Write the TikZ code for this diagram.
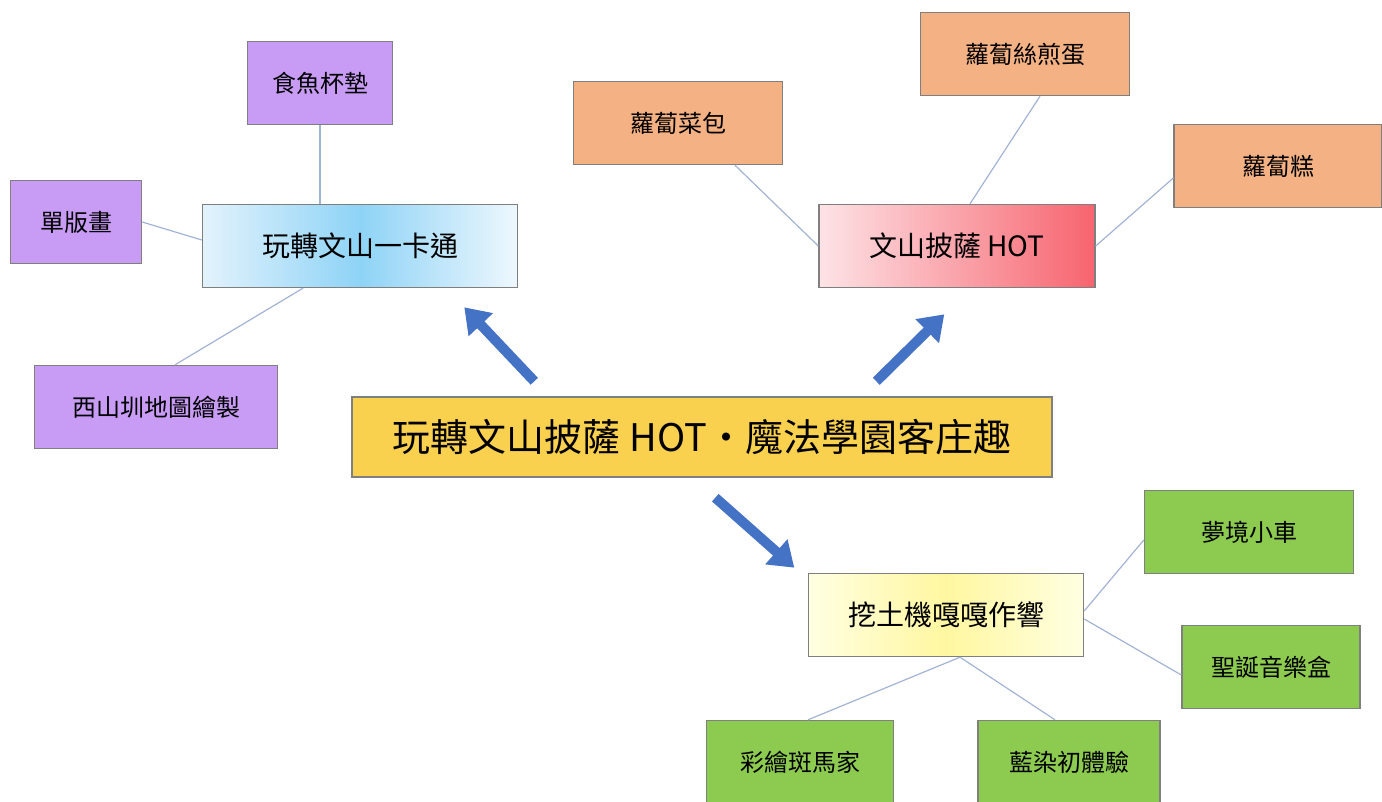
\documentclass[tikz,border=0pt]{standalone}
\usepackage{fontspec}
\newfontfamily\cjk{Noto Sans CJK TC}
\usepackage{tikz}
\usetikzlibrary{arrows.meta,calc}

\definecolor{boxline}{HTML}{7F7F7F}
\definecolor{linkblue}{HTML}{A3B3D6}
\definecolor{arrowblue}{HTML}{4472C4}
\definecolor{purplebox}{HTML}{C89BF5}
\definecolor{orangebox}{HTML}{F4B183}
\definecolor{greenbox}{HTML}{8CCB50}
\definecolor{goldbox}{HTML}{FAD04F}
\definecolor{skymid}{HTML}{8ED3F6}
\definecolor{skyedge}{HTML}{E3F3FC}
\definecolor{pinkedge}{HTML}{FDE3E6}
\definecolor{redmid}{HTML}{F7646F}
\definecolor{lemonmid}{HTML}{FFF7A0}
\definecolor{lemonedge}{HTML}{FFFFE2}

\begin{document}
\begin{tikzpicture}[
    x=0.5pt,y=-0.5pt,
    every node/.style={font=\cjk\fontsize{12pt}{14pt}\selectfont},
    box/.style={
        draw=boxline,line width=0.7pt,
        minimum height=41.5pt,inner sep=0pt,align=center
    },
    leafpurple/.style={box,fill=purplebox},
    leaforange/.style={box,fill=orangebox},
    leafgreen/.style={box,fill=greenbox},
    link/.style={draw=linkblue,line width=0.6pt},
    bigarrow/.style={
        draw=arrowblue,line width=5pt,
        -{Triangle[length=12pt,width=16pt]}
    }
]
\useasboundingbox (0,0) rectangle (1382,802);

% centre
\node[box,fill=goldbox,minimum width=350pt,minimum height=40pt,
      font=\cjk\fontsize{19pt}{22pt}\selectfont] (main) at (702,437)
  {玩轉文山披薩 HOT·魔法學園客庄趣};

% three topics
\node[box,left color=skyedge,right color=skyedge!60!white,middle color=skymid,
      minimum width=157.5pt,font=\cjk\fontsize{14pt}{16pt}\selectfont]
  (wan) at (360,246) {玩轉文山一卡通};
\node[box,left color=pinkedge,right color=redmid,
      minimum width=138pt,font=\cjk\fontsize{14pt}{16pt}\selectfont]
  (hot) at (957,246) {文山披薩 HOT};
\node[box,left color=lemonedge,right color=lemonedge,middle color=lemonmid,
      minimum width=137.5pt,font=\cjk\fontsize{14pt}{16pt}\selectfont]
  (dig) at (946,615) {挖土機嘎嘎作響};

% leaves of the first topic
\node[leafpurple,minimum width=72.5pt] (fish) at (320,83) {食魚杯墊};
\node[leafpurple,minimum width=65.5pt] (print) at (76,222) {單版畫};
\node[leafpurple,minimum width=121.5pt] (map) at (156,407) {西山圳地圖繪製};

% leaves of the second topic
\node[leaforange,minimum width=104.5pt] (bun) at (678,123) {蘿蔔菜包};
\node[leaforange,minimum width=104.5pt] (egg) at (1025,54) {蘿蔔絲煎蛋};
\node[leaforange,minimum width=104pt] (cake) at (1278,166) {蘿蔔糕};

% leaves of the third topic
\node[leafgreen,minimum width=104.5pt] (car) at (1249,532) {夢境小車};
\node[leafgreen,minimum width=89pt] (music) at (1271,667) {聖誕音樂盒};
\node[leafgreen,minimum width=93.5pt] (zebra) at (800,762) {彩繪斑馬家};
\node[leafgreen,minimum width=91pt] (dye) at (1069,762) {藍染初體驗};

% thin links
\draw[link] (fish.south) -- (fish.south |- wan.north);
\draw[link] (print.east) -- ([yshift=3pt]wan.west);
\draw[link] ([xshift=-28.5pt]wan.south) -- ([xshift=9.5pt]map.north);
\draw[link] ([xshift=28.5pt]bun.south) -- (hot.west);
\draw[link] ([xshift=7.5pt]egg.south) -- ([xshift=6.5pt]hot.north);
\draw[link] ([yshift=-6pt]cake.west) -- (hot.east);
\draw[link] ([yshift=2pt]dig.east) -- ([yshift=-4pt]car.west);
\draw[link] ([yshift=-2pt]dig.east) -- ([yshift=-4pt]music.west);
\draw[link] ([xshift=7pt]dig.south) -- ([xshift=4pt]zebra.north);
\draw[link] ([xshift=7pt]dig.south) -- ([xshift=-7pt]dye.north);

% block arrows out of the centre
\coordinate (a1) at ($(main.north west)+(183,-15)$);
\coordinate (b1) at ($(main.north west)+(113,-89)$);
\coordinate (a2) at ($(main.north west)+(525,-15)$);
\coordinate (b2) at ($(main.north west)+(593,-82)$);
\coordinate (a3) at ($(main.south west)+(364,20)$);
\coordinate (b3) at ($(main.south west)+(443,90)$);
\draw[bigarrow] (a1) -- (b1);
\draw[bigarrow] (a2) -- (b2);
\draw[bigarrow] (a3) -- (b3);
\end{tikzpicture}
\end{document}
